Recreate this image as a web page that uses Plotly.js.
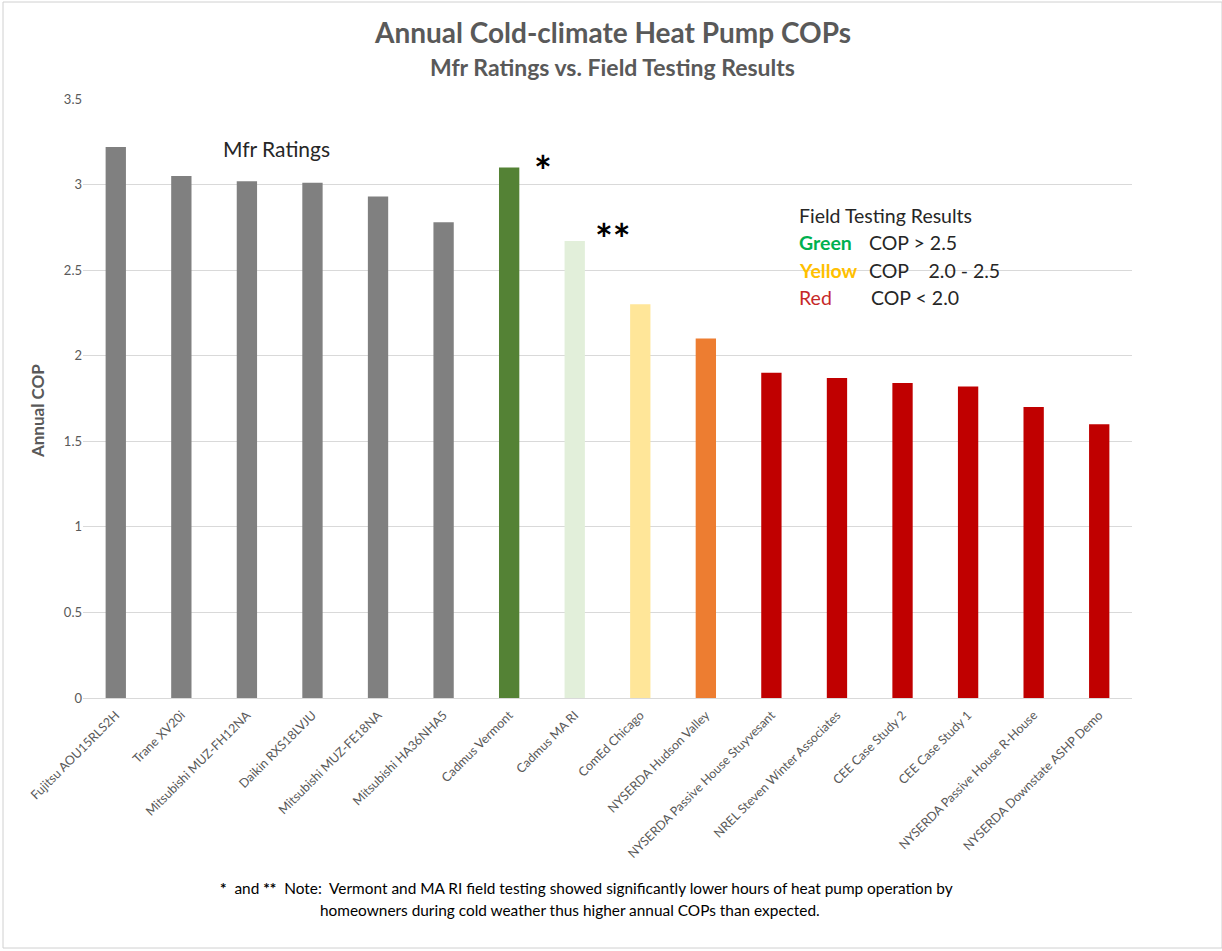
<!DOCTYPE html>
<html>
<head>
<meta charset="utf-8">
<script src="https://cdn.plot.ly/plotly-3.0.1.min.js"></script>
<style>html,body{margin:0;padding:0;background:#fff;}#chart{width:1222px;height:951px;}</style>
</head>
<body>
<div id="chart"></div>
<script>
const categories = [
  "Fujitsu AOU15RLS2H", "Trane XV20i", "Mitsubishi MUZ-FH12NA", "Daikin RXS18LVJU",
  "Mitsubishi MUZ-FE18NA", "Mitsubishi HA36NHA5", "Cadmus Vermont", "Cadmus MA RI",
  "ComEd Chicago", "NYSERDA Hudson Valley", "NYSERDA Passive House Stuyvesant",
  "NREL Steven Winter Associates", "CEE Case Study 2", "CEE Case Study 1",
  "NYSERDA Passive House R-House", "NYSERDA Downstate ASHP Demo"
];
const copValues = [3.22, 3.05, 3.02, 3.01, 2.93, 2.78, 3.10, 2.67, 2.30, 2.10, 1.90, 1.87, 1.84, 1.82, 1.70, 1.60];
const barColors = ["#808080", "#808080", "#808080", "#808080", "#808080", "#808080",
  "#548235", "#E2EFDA", "#FFE699", "#ED7D31",
  "#C00000", "#C00000", "#C00000", "#C00000", "#C00000", "#C00000"];
const yTicks = [0, 0.5, 1, 1.5, 2, 2.5, 3, 3.5];
const yTickLabels = ["0", "0.5", "1", "1.5", "2", "2.5", "3", "3.5"];

const FONT = "Lato, 'Open Sans', sans-serif";
const GREY = "#595959";

const trace = {
  type: "bar",
  x: categories,
  y: copValues,
  marker: { color: barColors },
  width: 0.31,
  hoverinfo: "x+y"
};

function note(text, x, y, size, color, anchor) {
  return { text: text, xref: "paper", yref: "paper", x: x, y: y, showarrow: false,
    font: { family: FONT, size: size, color: color }, xanchor: anchor || "left", yanchor: "middle" };
}

const yTitle = note("<b>Annual COP</b>", -0.0439, 0.479, 17, GREY, "center");
yTitle.textangle = -90;

const annotations = [
  note("<b>Annual Cold-climate Heat Pump COPs</b>", 0.5048, 1.112, 28, GREY, "center"),
  note("<b>Mfr Ratings vs. Field Testing Results</b>", 0.5048, 1.053, 23, GREY, "center"),
  yTitle,
  note("Mfr Ratings", 0.1840, 0.918, 21, "#262626", "center"),
  note("<b>*</b>", 0.4385, 0.880, 42, "#000", "center"),
  note("<b>**</b>", 0.5050, 0.766, 42, "#000", "center"),
  note("Field Testing Results", 0.681, 0.805, 19.5, "#262626"),
  note("<b>Green</b>", 0.681, 0.760, 19.5, "#00B050"),
  note("COP > 2.5", 0.747, 0.760, 19.5, "#262626"),
  note("<b>Yellow</b>", 0.681, 0.7145, 19.5, "#FFC000"),
  note("COP    2.0 - 2.5", 0.747, 0.7145, 19.5, "#262626"),
  note("Red", 0.681, 0.669, 19.5, "#C62828"),
  note("COP < 2.0", 0.749, 0.669, 19.5, "#262626"),
  note("<b>*</b>  and <b>**</b>  Note:  Vermont and MA RI field testing showed significantly lower hours of heat pump operation by",
    0.1287, -0.317, 15.4, "#000"),
  note("homeowners during cold weather thus higher annual COPs than expected.", 0.224, -0.354, 15.4, "#000")
];

const layout = {
  width: 1222,
  height: 951,
  paper_bgcolor: "#fff",
  plot_bgcolor: "#fff",
  margin: { l: 83, r: 90, t: 99, b: 253 },
  showlegend: false,
  bargap: 0.69,
  xaxis: {
    type: "category",
    tickangle: -45,
    tickfont: { family: FONT, size: 12.5, color: GREY },
    showgrid: false,
    showline: true,
    linecolor: "#d9d9d9",
    linewidth: 1,
    ticks: "outside",
    ticklen: 4,
    tickcolor: "rgba(0,0,0,0)",
    automargin: false
  },
  yaxis: {
    range: [0, 3.5],
    tickvals: yTicks,
    ticktext: yTickLabels,
    tickfont: { family: FONT, size: 13, color: GREY },
    showgrid: true,
    gridcolor: "#d9d9d9",
    gridwidth: 1,
    zeroline: false,
    showline: false,
    ticks: "",
    automargin: false
  },
  annotations: annotations,
  shapes: [
    { type: "rect", xref: "paper", yref: "paper",
      x0: -80 / 1049, x1: 1139 / 1049, y0: -250 / 599, y1: 1 + 97 / 599,
      line: { color: "#d0d0d0", width: 1 }, fillcolor: "rgba(0,0,0,0)" }
  ]
};

Plotly.newPlot("chart", [trace], layout, { displayModeBar: false, staticPlot: true });
</script>
</body>
</html>
